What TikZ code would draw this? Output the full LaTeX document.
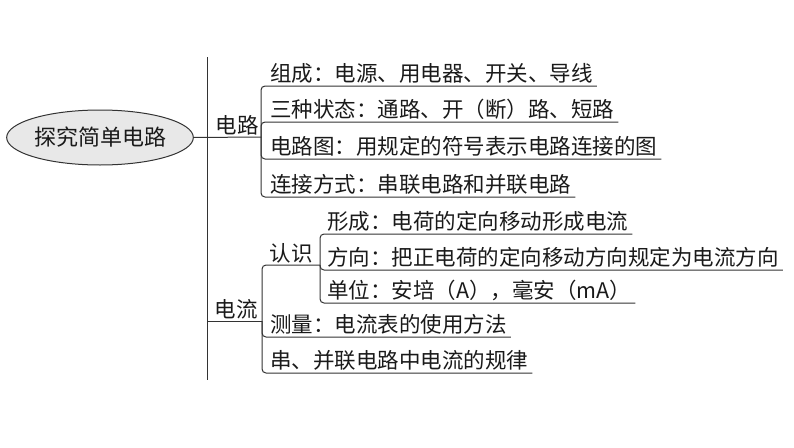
\documentclass[tikz,border=0pt]{standalone}
\usepackage{fontspec}
\newfontfamily\cjk{Noto Sans CJK SC}
\usetikzlibrary{shapes.geometric}
\definecolor{linec}{HTML}{333333}
\definecolor{txt}{HTML}{1A1A1A}
\definecolor{rootfill}{HTML}{E8E8E8}
\begin{document}
\begin{tikzpicture}[x=1pt,y=-1pt,
  conn/.style={draw=linec, line width=1pt, rounded corners=4pt},
  cjkfont/.style={font=\cjk\fontsize{21.5pt}{24pt}\selectfont, text=txt},
  item/.style={cjkfont, anchor=south west, inner xsep=4pt, inner ysep=0pt, text height=17pt, text depth=4pt},
  lab/.style={cjkfont, anchor=south, inner sep=0pt, text height=17pt, text depth=3pt},
  rootnode/.style={ellipse, draw=linec, line width=1pt, fill=rootfill, minimum width=178pt, minimum height=55pt, inner sep=0pt, font=\cjk\fontsize{22pt}{24pt}\selectfont, text=txt}]
\useasboundingbox (0,0) rectangle (794,447);

% spine
\coordinate (top) at (207,57);
\coordinate (bot) at (207,380);
\draw[conn] (top) -- (bot);

% root
\node[rootnode] (root) at (100,137.5) {探究简单电路};

% branch: 电路
\coordinate (b1) at (261,137);
\draw[conn] (root.east) -- (b1);
\node[lab] (dl) at (237,137) {电路};
\node[item] (a1) at (266,86) {组成：电源、用电器、开关、导线};
\node[item] (a2) at (266,122) {三种状态：通路、开（断）路、短路};
\node[item] (a3) at (266,159) {电路图：用规定的符号表示电路连接的图};
\node[item] (a4) at (266,197) {连接方式：串联电路和并联电路};
\foreach \n in {a1,a2,a3,a4} \draw[conn] (b1) |- (\n.south east);

% branch: 电流
\coordinate (s2) at (207,321);
\coordinate (b2) at (262,321);
\draw[conn] (s2) -- (b2);
\node[lab] (dlz) at (236,321) {电流};
\coordinate (b3) at (320,265);
\node[lab] (rs) at (291,265) {认识};
\draw[conn] (b2) |- (b3);
\node[item] (c2) at (266,337) {测量：电流表的使用方法};
\node[item] (c3) at (266,373) {串、并联电路中电流的规律};
\foreach \n in {c2,c3} \draw[conn] (b2) |- (\n.south east);

\node[item] (d1) at (323,234) {形成：电荷的定向移动形成电流};
\node[item] (d2) at (323,270) {方向：把正电荷的定向移动方向规定为电流方向};
\node[item] (d3) at (323,303) {单位：安培（A），毫安（mA）};
\foreach \n in {d1,d2,d3} \draw[conn] (b3) |- (\n.south east);
\end{tikzpicture}
\end{document}
